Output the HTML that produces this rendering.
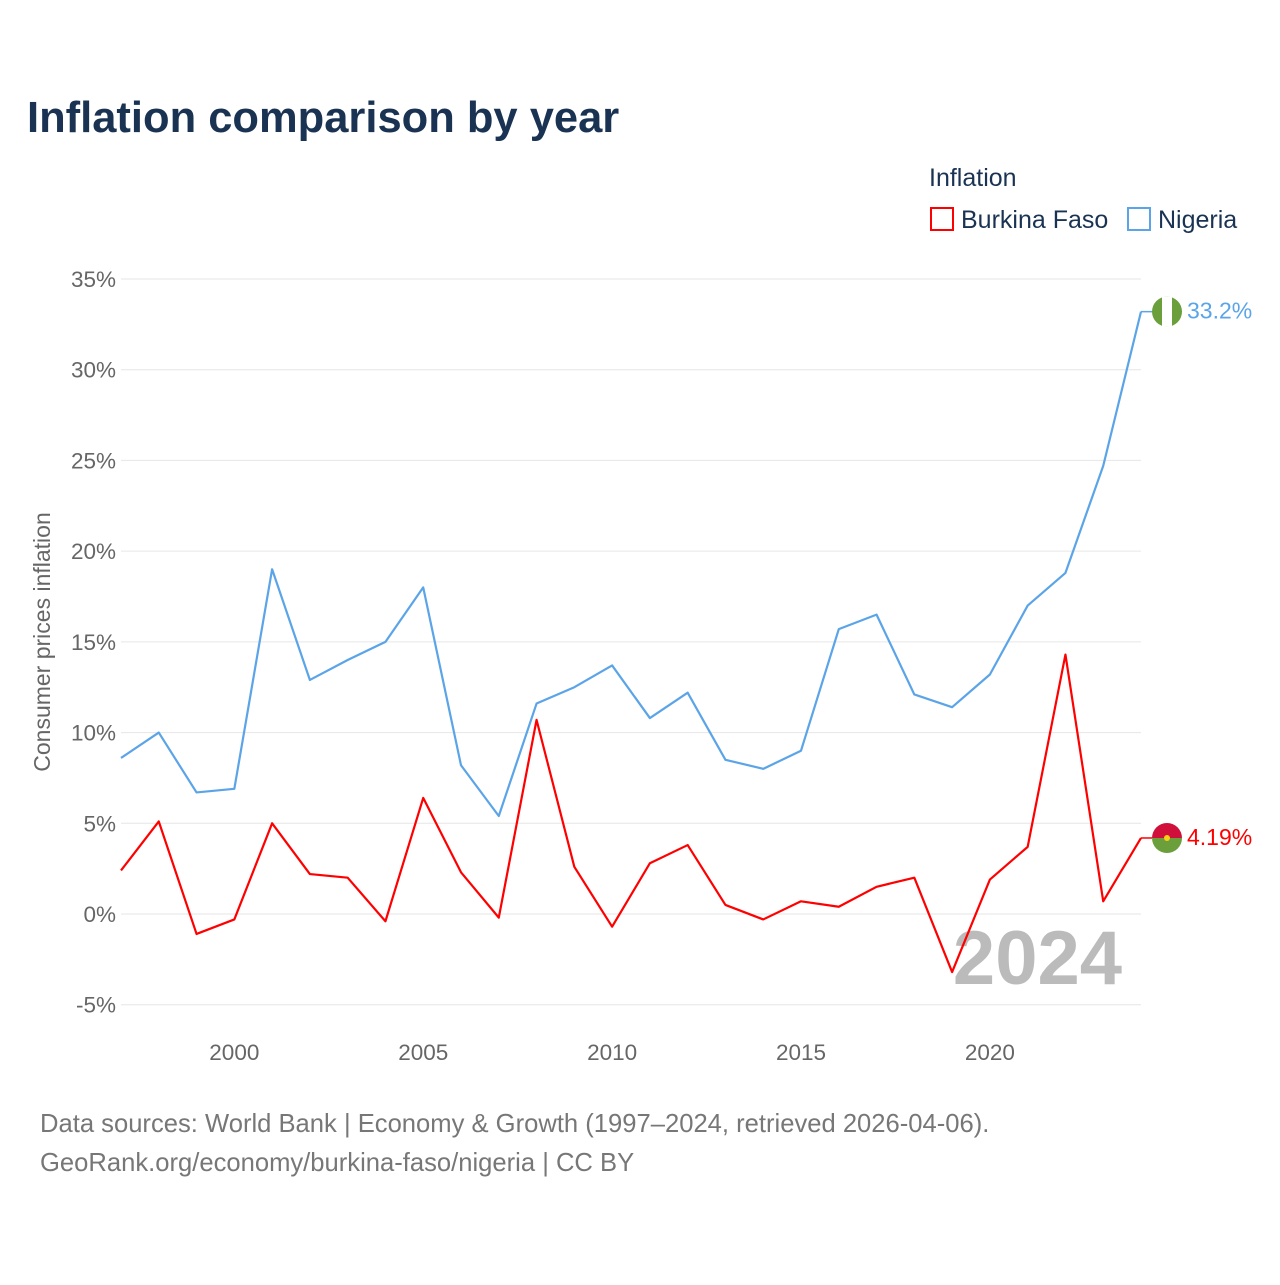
<!DOCTYPE html>
<html><head><meta charset="utf-8"><style>
body{margin:0;background:#fff;font-family:"Liberation Sans",sans-serif;}
</style></head><body>
<svg width="1280" height="1280" viewBox="0 0 1280 1280" xmlns="http://www.w3.org/2000/svg">
<text x="27" y="132" font-size="43.5" font-weight="bold" fill="#1a3353">Inflation comparison by year</text>
<text x="929" y="186" font-size="25" fill="#1a3353">Inflation</text>
<g><rect x="931" y="208" width="22" height="22" fill="none" stroke="#f00" stroke-width="2"/><text x="961" y="228" font-size="25" fill="#1a3353">Burkina Faso</text></g>
<g><rect x="1128" y="208" width="22" height="22" fill="none" stroke="#5ba4e8" stroke-width="2"/><text x="1158" y="228" font-size="25" fill="#1a3353">Nigeria</text></g>
<g id="grid"></g>
<g id="yticks"></g>
<g id="xticks"></g>
<text transform="translate(50,642) rotate(-90)" text-anchor="middle" font-size="23" fill="#666">Consumer prices inflation</text>
<text x="1122" y="984" text-anchor="end" font-size="76" font-weight="bold" fill="#bbb">2024</text>
<g id="series"></g>
<text x="40" y="1132" font-size="25.6" fill="#777">Data sources: World Bank | Economy &amp; Growth (1997–2024, retrieved 2026-04-06).</text>
<text x="40" y="1171" font-size="25.6" fill="#777">GeoRank.org/economy/burkina-faso/nigeria | CC BY</text>
</svg>
<script>
const years=[1997,1998,1999,2000,2001,2002,2003,2004,2005,2006,2007,2008,2009,2010,2011,2012,2013,2014,2015,2016,2017,2018,2019,2020,2021,2022,2023,2024];
const nigeria=[8.6,10.0,6.7,6.9,19.0,12.9,14.0,15.0,18.0,8.2,5.4,11.6,12.5,13.7,10.8,12.2,8.5,8.0,9.0,15.7,16.5,12.1,11.4,13.2,17.0,18.8,24.7,33.2];
const burkina=[2.4,5.1,-1.1,-0.3,5.0,2.2,2.0,-0.4,6.4,2.3,-0.2,10.7,2.6,-0.7,2.8,3.8,0.5,-0.3,0.7,0.4,1.5,2.0,-3.2,1.9,3.7,14.3,0.7,4.19];
const yTicks=[-5,0,5,10,15,20,25,30,35];
const xTicks=[2000,2005,2010,2015,2020];
const NS="http://www.w3.org/2000/svg";
const x=v=>121+(v-1997)*(1141-121)/27;
const y=v=>914-v*(914-279)/35;
function mk(t,a,p){const e=document.createElementNS(NS,t);for(const k in a)e.setAttribute(k,a[k]);document.getElementById(p).appendChild(e);return e;}
yTicks.forEach(t=>{
 const l=mk('line',{x1:121,x2:1141,y1:y(t),y2:y(t),stroke:'#e6e6e6','stroke-width':1},'grid');
 
 
 const tx=mk('text',{x:116,y:y(t)+8,'text-anchor':'end','font-size':22.5,fill:'#666'},'yticks');
 tx.textContent=t+'%';
 
 
});
xTicks.forEach(t=>{
 const tx=mk('text',{x:x(t),y:1060,'text-anchor':'middle','font-size':22.5,fill:'#666'},'xticks');
 tx.textContent=t;
 
 
});
function line(data,col,name){
 const p=mk('polyline',{points:data.map((v,i)=>x(years[i])+','+y(v)).join(' '),fill:'none',stroke:col,'stroke-width':2.2,'stroke-linejoin':'round'},'series');
 
 
}
line(nigeria,'#5ba4e8','line-nigeria');
line(burkina,'#f00','line-burkina-faso');
const nl=nigeria[nigeria.length-1], bl=burkina[burkina.length-1];
mk('line',{x1:1141,x2:1152,y1:y(nl),y2:y(nl),stroke:'#5ba4e8','stroke-width':1.5},'series');
mk('line',{x1:1141,x2:1152,y1:y(bl),y2:y(bl),stroke:'#f00','stroke-width':1.5},'series');
let cy=y(nl);
mk('circle',{cx:1167,cy:cy,r:15,fill:'#6a9f3c'},'series');
mk('rect',{x:1162,y:cy-15,width:10,height:30,fill:'#fff'},'series');
cy=y(bl);
mk('path',{d:`M1152 ${cy} A15 15 0 0 1 1182 ${cy} Z`,fill:'#d0103a'},'series');
mk('path',{d:`M1152 ${cy} A15 15 0 0 0 1182 ${cy} Z`,fill:'#6a9f3c'},'series');
mk('circle',{cx:1167,cy:cy,r:3,fill:'#f7d117'},'series');
let t=mk('text',{x:1187,y:y(nl)+7,'font-size':23,fill:'#5ba4e8'},'series');t.textContent=nl+'%';


t=mk('text',{x:1187,y:y(bl)+7,'font-size':23,fill:'#f00'},'series');t.textContent=bl+'%';


</script>
</body></html>
